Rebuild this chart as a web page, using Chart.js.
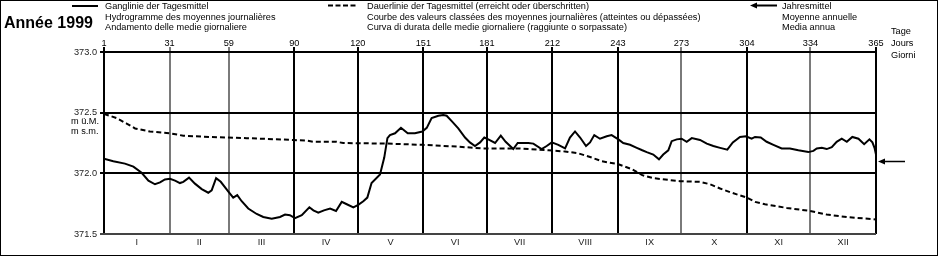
<!DOCTYPE html>
<html>
<head>
<meta charset="utf-8">
<script src="https://cdn.jsdelivr.net/npm/chart.js@4.4.0/dist/chart.umd.min.js"></script>
<style>
  html, body { margin: 0; padding: 0; background: #fff; }
  #wrap { position: relative; width: 938px; height: 256px; font-family: "Liberation Sans", Arial, sans-serif; color: #000; overflow: hidden; }
  #myChart { position: absolute; left: 0; top: 0; }
  #frame { position: absolute; left: 0; top: 0; width: 936px; height: 254px; border: 1px solid #000; pointer-events: none; }
  #keys { position: absolute; left: 0; top: 0; }
  .txt { position: absolute; font-size: 9.2px; line-height: 10.5px; white-space: nowrap; }
  #title { position: absolute; left: 4px; top: 15px; font-size: 16px; line-height: 16px; font-weight: bold; white-space: nowrap; }
</style>
</head>
<body>
<div id="wrap">
  <canvas id="myChart" width="938" height="256"></canvas>
  <svg id="keys" width="938" height="256">
    <line x1="72" y1="6" x2="98" y2="6" stroke="#000" stroke-width="2"/>
    <line x1="328" y1="5.5" x2="356" y2="5.5" stroke="#000" stroke-width="2" stroke-dasharray="5 2.5"/>
    <line x1="755" y1="5.5" x2="777" y2="5.5" stroke="#000" stroke-width="2"/>
    <polygon points="750,5.5 757,2.5 757,8.5" fill="#000"/>
  </svg>
  <div id="title">Année 1999</div>
  <div class="txt" style="left:105px;top:1px">Ganglinie der Tagesmittel<br>Hydrogramme des moyennes journalières<br>Andamento delle medie giornaliere</div>
  <div class="txt" style="left:367px;top:1px">Dauerlinie der Tagesmittel (erreicht oder überschritten)<br>Courbe des valeurs classées des moyennes journalières (atteintes ou dépassées)<br>Curva di durata delle medie giornaliere (raggiunte o sorpassate)</div>
  <div class="txt" style="left:782px;top:1px">Jahresmittel<br>Moyenne annuelle<br>Media annua</div>
  <div class="txt" style="left:891px;top:26px;line-height:11.8px">Tage<br>Jours<br>Giorni</div>
  <div class="txt" style="left:71px;top:116px;line-height:10px">m ü.M.<br>m s.m.</div>
  <div id="frame"></div>
</div>
<script>
// Axis ticks
const dayTicks = [0, 31, 59, 90, 120, 151, 181, 212, 243, 273, 304, 334, 365];
const dayLabels = ['1', '31', '59', '90', '120', '151', '181', '212', '243', '273', '304', '334', '365'];
const monthNames = ['I', 'II', 'III', 'IV', 'V', 'VI', 'VII', 'VIII', 'IX', 'X', 'XI', 'XII'];
const levelTicks = [371.5, 372.0, 372.5, 373.0];

// Hydrograph (daily means), m a.s.l.
const hydroDays = [0, 4.4, 9.9, 13.9, 17.8, 21, 24.1, 26.5, 28.8, 31.2, 33.6, 35.9, 37.5, 40.2, 43, 46.2, 49.3, 50.9, 53, 55.2,
  58.8, 61.1, 63, 65.1, 68.2, 72.2, 75.3, 79.3, 83.2, 85.6, 87.9, 90.3, 93.5, 97.1, 99, 101.3, 104, 106.9, 109.7, 112.4,
  114.8, 117.9, 120.2, 122.6, 124.5, 126.5, 130.5, 132.5, 134, 135.2, 137.6, 140.4, 143.6, 147, 150.5, 152.6, 154.9, 158.1, 160.4, 162,
  164.4, 167.5, 170.7, 173, 175.4, 177.8, 179.8, 181.7, 184.9, 187.6, 189.9, 193.5, 195.6, 200.6, 203, 206.9, 209.3, 211.7, 214.8, 218,
  220.3, 222.7, 225.1, 227.9, 229.8, 231.8, 234.5, 237.7, 240, 243.2, 245.5, 248.7, 251.9, 254.5, 256.6, 259.7, 262.4, 264.4, 266.8, 268.4,
  270.8, 273.1, 275.5, 277.9, 281.8, 285, 288.1, 291.3, 294.7, 297.3, 300.7, 303.5, 306.2, 307.8, 310.5, 313.3, 316.5, 320.4, 324.3, 328.3,
  333, 335.4, 337, 339.4, 341.7, 344.1, 346.4, 348.8, 351.2, 353.8, 356.7, 359.4, 361.9, 363.3, 364.3, 365];
const hydroLevels = [372.12, 372.10, 372.08, 372.055, 372.005, 371.94, 371.91, 371.925, 371.95, 371.955, 371.94, 371.92, 371.93, 371.965, 371.915, 371.87, 371.84, 371.86, 371.96, 371.93,
  371.85, 371.80, 371.82, 371.77, 371.71, 371.665, 371.64, 371.625, 371.64, 371.66, 371.655, 371.63, 371.655, 371.72, 371.695, 371.675, 371.695, 371.71, 371.69, 371.765,
  371.745, 371.72, 371.74, 371.77, 371.80, 371.92, 371.99, 372.13, 372.29, 372.315, 372.33, 372.375, 372.33, 372.33, 372.345, 372.375, 372.455, 372.475, 372.48, 372.475,
  372.43, 372.37, 372.295, 372.255, 372.225, 372.255, 372.295, 372.28, 372.25, 372.31, 372.26, 372.20, 372.25, 372.25, 372.245, 372.20, 372.225, 372.255, 372.235, 372.205,
  372.295, 372.345, 372.295, 372.225, 372.255, 372.315, 372.285, 372.305, 372.315, 372.28, 372.25, 372.235, 372.21, 372.19, 372.175, 372.155, 372.115, 372.155, 372.19, 372.265,
  372.28, 372.285, 372.26, 372.29, 372.275, 372.245, 372.225, 372.21, 372.195, 372.255, 372.30, 372.305, 372.285, 372.30, 372.295, 372.26, 372.235, 372.205, 372.205, 372.19,
  372.175, 372.185, 372.205, 372.21, 372.20, 372.215, 372.26, 372.285, 372.26, 372.30, 372.285, 372.24, 372.28, 372.255, 372.21, 372.155];

// Duration curve (reached or exceeded)
const durationDays = [0, 6, 10.7, 14.7, 21.7, 31.2, 37.5, 50.1, 67.5, 89.5, 95.8, 99, 110, 113.1, 134, 150.2, 167.5, 178.6, 195.9, 210.1,
  218, 224.3, 230.6, 235.3, 243.2, 249.5, 254.5, 259.7, 272.3, 281.8, 286.5, 291.3, 296.8, 303.9, 307.8, 312.5, 322.8, 333.8, 341.7, 351.2, 365];
const durationLevels = [372.49, 372.455, 372.41, 372.37, 372.345, 372.33, 372.31, 372.30, 372.29, 372.275, 372.27, 372.26, 372.26, 372.25, 372.245, 372.235, 372.22, 372.205, 372.205, 372.19,
  372.18, 372.165, 372.13, 372.10, 372.075, 372.035, 371.985, 371.96, 371.935, 371.93, 371.91, 371.875, 371.84, 371.80, 371.765, 371.745, 371.715, 371.69, 371.66, 371.64, 371.62];

const annualMean = 372.105;

const grayDays = [31, 59, 273, 334];
const monthMid = dayTicks.slice(0, 12).map((d, i) => (d + dayTicks[i + 1]) / 2);
const tickFont = { family: 'Liberation Sans', size: 9.2 };

const meanArrow = {
  id: 'meanArrow',
  afterDraw(chart) {
    const { ctx, chartArea, scales } = chart;
    const y = Math.round(scales.y.getPixelForValue(annualMean)) + 0.5;
    const x0 = chartArea.right + 2;
    ctx.save();
    ctx.strokeStyle = '#000';
    ctx.fillStyle = '#000';
    ctx.lineWidth = 1.5;
    ctx.beginPath();
    ctx.moveTo(x0 + 6, y);
    ctx.lineTo(x0 + 27, y);
    ctx.stroke();
    ctx.beginPath();
    ctx.moveTo(x0, y);
    ctx.lineTo(x0 + 7, y - 3);
    ctx.lineTo(x0 + 7, y + 3);
    ctx.closePath();
    ctx.fill();
    ctx.restore();
  }
};

const ctx = document.getElementById('myChart');
const myChart = new Chart(ctx, {
  type: 'line',
  data: {
    datasets: [{
      label: 'Ganglinie der Tagesmittel',
      data: hydroDays.map((d, i) => ({ x: d, y: hydroLevels[i] })),
      borderColor: '#000',
      borderWidth: 2,
      pointRadius: 0,
      tension: 0
    }, {
      label: 'Dauerlinie der Tagesmittel',
      data: durationDays.map((d, i) => ({ x: d, y: durationLevels[i] })),
      borderColor: '#000',
      borderWidth: 2,
      borderDash: [5, 3],
      pointRadius: 0,
      tension: 0
    }]
  },
  options: {
    responsive: false,
    animation: false,
    devicePixelRatio: 1,
    layout: { padding: { left: 0, right: 62, top: 0, bottom: 0 } },
    plugins: {
      legend: { display: false },
      tooltip: { enabled: false }
    },
    scales: {
      x: {
        type: 'linear',
        position: 'top',
        min: 0,
        max: 365,
        afterBuildTicks: s => { s.ticks = dayTicks.map(v => ({ value: v })); },
        afterFit: s => { s.height = 52; },
        ticks: {
          autoSkip: false,
          maxRotation: 0,
          padding: -2,
          color: '#000',
          font: tickFont,
          callback: (v, i) => dayLabels[i]
        },
        grid: {
          color: c => (c.tick && grayDays.includes(c.tick.value)) ? '#7a7a7a' : '#000',
          lineWidth: 2,
          tickLength: 5
        },
        border: { display: false }
      },
      x2: {
        type: 'linear',
        position: 'bottom',
        min: 0,
        max: 365,
        afterBuildTicks: s => { s.ticks = monthMid.map(v => ({ value: v })); },
        afterFit: s => { s.height = 22; },
        ticks: {
          autoSkip: false,
          maxRotation: 0,
          padding: 3,
          color: '#222',
          font: tickFont,
          callback: (v, i) => monthNames[i]
        },
        grid: { display: false, drawTicks: false },
        border: { display: false }
      },
      y: {
        min: 371.5,
        max: 373,
        afterBuildTicks: s => { s.ticks = levelTicks.map(v => ({ value: v })); },
        afterFit: s => { s.width = 104; },
        ticks: {
          padding: 3,
          color: '#222',
          font: tickFont,
          callback: v => v.toFixed(1)
        },
        grid: {
          color: c => (c.tick && c.tick.value === 371.5) ? '#444' : '#000',
          lineWidth: 2,
          tickLength: 4
        },
        border: { display: false }
      }
    }
  },
  plugins: [meanArrow]
});
</script>
</body>
</html>
